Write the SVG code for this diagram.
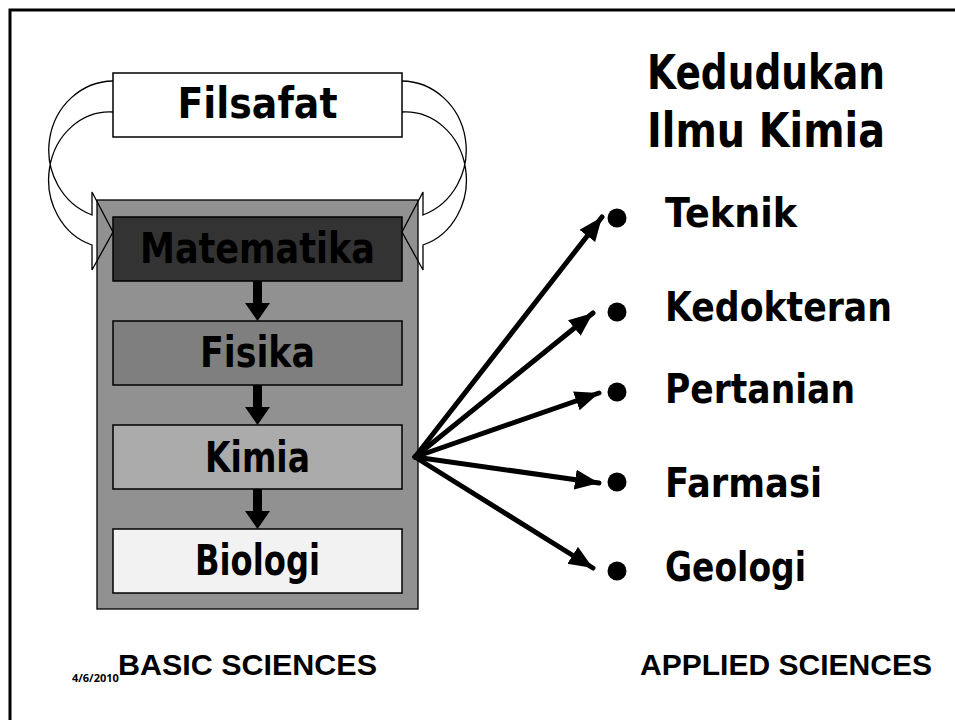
<svg xmlns="http://www.w3.org/2000/svg" width="955" height="720" viewBox="0 0 955 720">
<style>
.t{font-family:"DejaVu Sans","Liberation Sans",sans-serif;font-weight:bold;fill:#000}
.f{font-family:"Liberation Sans",Arial,sans-serif;font-weight:bold;fill:#000}
.box{stroke:#000;stroke-width:1.5}
.curv{fill:none;stroke:#000;stroke-width:1.3}
.ln{stroke:#000;stroke-width:5;stroke-linecap:round;fill:none}
</style>
<defs>
<marker id="ah" markerUnits="userSpaceOnUse" markerWidth="26" markerHeight="22" refX="24" refY="10" orient="auto">
<path d="M0,0 L24,10 L0,20 Z" fill="#000"/>
</marker>
</defs>
<rect width="955" height="720" fill="#fff"/>
<path d="M10,720 L10,10 L955,10" fill="none" stroke="#000" stroke-width="3"/>

<g id="container">
<rect x="97" y="200" width="321" height="409" fill="#919191" stroke="#000" stroke-width="1.3"/>
</g>

<g id="filsafat">
<rect class="box" x="113" y="73" width="289" height="64" fill="#fff"/>
<text class="t" x="257.5" y="118" font-size="42" text-anchor="middle" textLength="160" lengthAdjust="spacingAndGlyphs">Filsafat</text>
</g>

<g id="matematika">
<rect class="box" x="113" y="217" width="289" height="64" fill="#333"/>
<text class="t" x="257.5" y="263" font-size="42" text-anchor="middle" textLength="235" lengthAdjust="spacingAndGlyphs">Matematika</text>
</g>

<g id="fisika">
<rect class="box" x="113" y="321" width="289" height="64" fill="#7f7f7f"/>
<text class="t" x="257.5" y="367" font-size="42" text-anchor="middle" textLength="115" lengthAdjust="spacingAndGlyphs">Fisika</text>
</g>

<g id="kimia">
<rect class="box" x="113" y="425" width="289" height="64" fill="#ababab"/>
<text class="t" x="257.5" y="472" font-size="42" text-anchor="middle" textLength="105" lengthAdjust="spacingAndGlyphs">Kimia</text>
</g>

<g id="biologi">
<rect class="box" x="113" y="529" width="289" height="64" fill="#f2f2f2"/>
<text class="t" x="257.5" y="575" font-size="42" text-anchor="middle" textLength="125" lengthAdjust="spacingAndGlyphs">Biologi</text>
</g>

<g id="connectors">
<path class="curv" d="M113,81 A65,69 0 0 0 92,215 L92,192 L113,232 L92,270 L92,245 A61,68 0 0 1 113,112"/>
<path class="curv" transform="translate(515,0) scale(-1,1)" d="M113,81 A65,69 0 0 0 92,215 L92,192 L113,232 L92,270 L92,245 A61,68 0 0 1 113,112"/>
<polygon points="253,281 262,281 262,303 270,303 257.5,321 245,303 253,303" fill="#000"/>
<polygon points="253,385 262,385 262,407 270,407 257.5,425 245,407 253,407" fill="#000"/>
<polygon points="253,489 262,489 262,511 270,511 257.5,529 245,511 253,511" fill="#000"/>
<line class="ln" x1="415" y1="457" x2="602" y2="217" marker-end="url(#ah)"/>
<line class="ln" x1="415" y1="457" x2="593" y2="313" marker-end="url(#ah)"/>
<line class="ln" x1="415" y1="457" x2="599" y2="393" marker-end="url(#ah)"/>
<line class="ln" x1="415" y1="457" x2="599" y2="483" marker-end="url(#ah)"/>
<line class="ln" x1="415" y1="457" x2="593" y2="568" marker-end="url(#ah)"/>
</g>

<g id="title">
<text class="t" x="766" y="89" font-size="48" text-anchor="middle" textLength="238" lengthAdjust="spacingAndGlyphs">Kedudukan</text>
<text class="t" x="766" y="147" font-size="48" text-anchor="middle" textLength="238" lengthAdjust="spacingAndGlyphs">Ilmu Kimia</text>
</g>

<g id="applied">
<circle cx="617" cy="218" r="9.5" fill="#000"/>
<circle cx="617" cy="312" r="9.5" fill="#000"/>
<circle cx="617" cy="392" r="9.5" fill="#000"/>
<circle cx="617" cy="482" r="9.5" fill="#000"/>
<circle cx="617" cy="571" r="9.5" fill="#000"/>
<text class="t" x="665" y="227" font-size="41" textLength="132" lengthAdjust="spacingAndGlyphs">Teknik</text>
<text class="t" x="665" y="321" font-size="41" textLength="227" lengthAdjust="spacingAndGlyphs">Kedokteran</text>
<text class="t" x="665" y="403" font-size="41" textLength="190" lengthAdjust="spacingAndGlyphs">Pertanian</text>
<text class="t" x="665" y="497" font-size="41" textLength="157" lengthAdjust="spacingAndGlyphs">Farmasi</text>
<text class="t" x="665" y="581" font-size="41" textLength="141" lengthAdjust="spacingAndGlyphs">Geologi</text>
</g>

<g id="footer">
<text x="72" y="682" font-family="'Open Sans','Noto Sans',sans-serif" font-size="11" font-weight="bold" fill="#000">4/6/2010</text>
<text class="f" x="118" y="675" font-size="30" textLength="259" lengthAdjust="spacingAndGlyphs">BASIC SCIENCES</text>
<text class="f" x="932" y="675" font-size="30" text-anchor="end" textLength="292" lengthAdjust="spacingAndGlyphs">APPLIED SCIENCES</text>
</g>
</svg>
